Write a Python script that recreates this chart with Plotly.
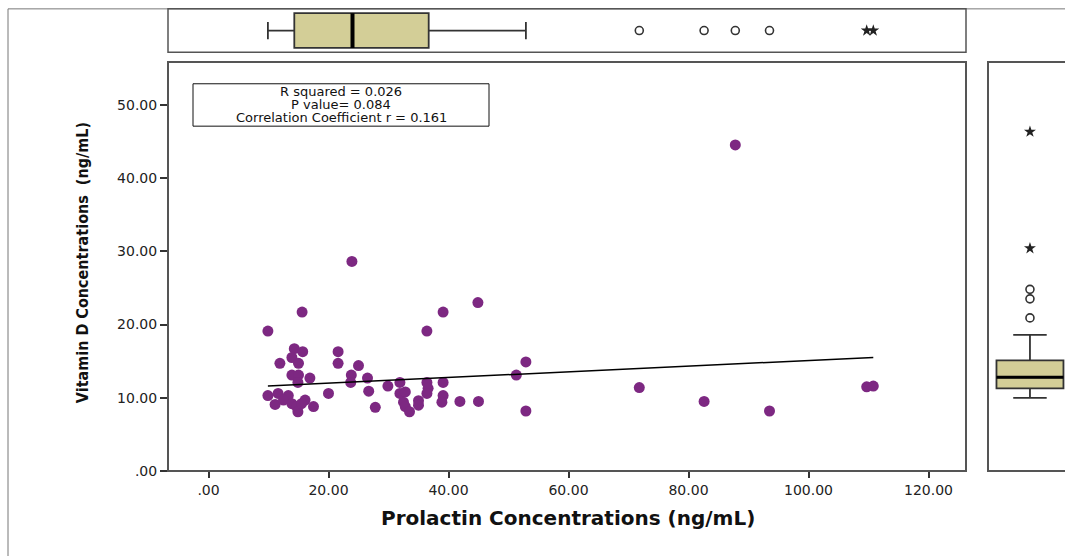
import plotly.graph_objects as go

W, H = 1065, 556

# ---- data ----
prolactin = [15.6, 9.9, 36.4, 39.1, 44.9, 14.3, 15.7, 21.6, 13.9, 11.9,
             15.0, 21.6, 25.0, 13.9, 15.0, 16.9, 14.9, 23.8, 23.7, 26.5,
             29.9, 31.9, 36.4, 39.1, 36.6, 26.7, 20.0, 31.9, 32.8, 36.4,
             39.1, 52.9, 51.3, 52.9, 9.9, 11.6, 13.3, 11.1, 12.5, 13.9,
             14.7, 14.9, 16.1, 15.5, 17.5, 27.8, 32.5, 32.8, 33.5, 35.0,
             35.0, 38.9, 41.9, 45.0, 23.9, 71.8, 82.6, 93.5, 109.7, 110.8,
             87.8]
vitamin_d = [21.7, 19.1, 19.1, 21.7, 23.0, 16.7, 16.3, 16.3, 15.5, 14.7,
             14.7, 14.7, 14.4, 13.1, 13.1, 12.7, 12.1, 13.1, 12.1, 12.7,
             11.6, 12.1, 12.1, 12.1, 11.3, 10.9, 10.6, 10.6, 10.8, 10.6,
             10.3, 14.9, 13.1, 8.2, 10.3, 10.6, 10.3, 9.1, 9.7, 9.2,
             8.8, 8.1, 9.7, 9.2, 8.8, 8.7, 9.4, 8.8, 8.1, 9.6,
             9.0, 9.4, 9.5, 9.5, 28.6, 11.4, 9.5, 8.2, 11.5, 11.6,
             44.5]

fit_intercept = 11.22
fit_slope = 0.0387

# boxplot summaries: [lower whisker, Q1, median, Q3, upper whisker]
prl_stats = [9.9, 14.3, 24.0, 36.7, 52.9]
prl_outliers = [71.8, 82.6, 87.8, 93.5]
prl_extremes = [109.7, 110.8]

vitd_stats = [8.2, 9.5, 11.0, 13.3, 16.8]
vitd_outliers = [19.1, 21.7, 23.0]
vitd_extremes = [28.6, 44.5]

x_tick_vals = [0, 20, 40, 60, 80, 100, 120]
x_tick_text = [".00", "20.00", "40.00", "60.00", "80.00", "100.00", "120.00"]
y_tick_vals = [0, 10, 20, 30, 40, 50]
y_tick_text = [".00", "10.00", "20.00", "30.00", "40.00", "50.00"]

stats_lines = ["R squared = 0.026", "P value= 0.084", "Correlation Coefficient r = 0.161"]
x_title = "Prolactin Concentrations (ng/mL)"
y_title = "Vitamin D Concentrations  (ng/mL)"

# ---- styling ----
PURPLE = "#7D2882"
BOXFILL = "#D3CE97"
FRAME = "#555555"


def px(x):
    return x / W


def py(y):
    return 1 - y / H


x_range = [-6.75, 126.25]
y_range = [0, 55.8]
vitd_shift = 1.8  # right-hand boxplot panel is drawn slightly offset in the source

fig = go.Figure()

# scatter points
fig.add_trace(go.Scatter(x=prolactin, y=vitamin_d, mode="markers",
                         marker=dict(color=PURPLE, size=11, line=dict(width=0)),
                         xaxis="x", yaxis="y", hoverinfo="x+y"))
# fit line
x0, x1 = min(prolactin), max(prolactin)
fig.add_trace(go.Scatter(x=[x0, x1], y=[fit_intercept + fit_slope * x0, fit_intercept + fit_slope * x1],
                         mode="lines", line=dict(color="black", width=1.5),
                         xaxis="x", yaxis="y", hoverinfo="skip"))

# top boxplot (prolactin)
top_w = 0.8
fig.add_trace(go.Box(orientation="h", y=[0],
                     lowerfence=[prl_stats[0]], q1=[prl_stats[1]], median=[prl_stats[2]],
                     q3=[prl_stats[3]], upperfence=[prl_stats[4]],
                     boxpoints=False, width=top_w, whiskerwidth=0.5,
                     fillcolor=BOXFILL, line=dict(color="#333333", width=1.8),
                     xaxis="x2", yaxis="y2"))
fig.add_trace(go.Scatter(x=[prl_stats[2], prl_stats[2]], y=[-top_w / 2, top_w / 2], mode="lines",
                         line=dict(color="black", width=4), xaxis="x2", yaxis="y2", hoverinfo="skip"))
fig.add_trace(go.Scatter(x=prl_outliers, y=[0] * len(prl_outliers), mode="markers",
                         marker=dict(symbol="circle-open", size=8, color="#333333", line=dict(width=1.6)),
                         xaxis="x2", yaxis="y2"))
fig.add_trace(go.Scatter(x=prl_extremes, y=[0] * len(prl_extremes), mode="markers",
                         marker=dict(symbol="star", size=9, color="#222222"),
                         xaxis="x2", yaxis="y2"))

# right boxplot (vitamin D)
right_w = 0.87
fig.add_trace(go.Box(orientation="v", x=[0],
                     lowerfence=[vitd_stats[0]], q1=[vitd_stats[1]], median=[vitd_stats[2]],
                     q3=[vitd_stats[3]], upperfence=[vitd_stats[4]],
                     boxpoints=False, width=right_w, whiskerwidth=0.5,
                     fillcolor=BOXFILL, line=dict(color="#333333", width=1.8),
                     xaxis="x3", yaxis="y3"))
fig.add_trace(go.Scatter(x=[-right_w / 2, right_w / 2], y=[vitd_stats[2], vitd_stats[2]], mode="lines",
                         line=dict(color="black", width=3), xaxis="x3", yaxis="y3", hoverinfo="skip"))
fig.add_trace(go.Scatter(x=[0] * len(vitd_outliers), y=vitd_outliers, mode="markers",
                         marker=dict(symbol="circle-open", size=8, color="#333333", line=dict(width=1.6)),
                         xaxis="x3", yaxis="y3"))
fig.add_trace(go.Scatter(x=[0] * len(vitd_extremes), y=vitd_extremes, mode="markers",
                         marker=dict(symbol="star", size=9, color="#222222"),
                         xaxis="x3", yaxis="y3"))

tick_font = dict(family="DejaVu Sans, Arial, sans-serif", size=14, color="#222222")
main_dom_x = [px(168), px(966)]
main_dom_y = [py(478), py(63)]

fig.update_layout(
    width=W, height=H, margin=dict(l=0, r=0, t=0, b=0),
    paper_bgcolor="white", plot_bgcolor="white", showlegend=False,
    xaxis=dict(domain=main_dom_x, range=x_range, anchor="y",
               tickmode="array", tickvals=x_tick_vals, ticktext=x_tick_text,
               ticks="outside", ticklen=6, tickwidth=1.5, tickcolor="#333333",
               tickfont=tick_font, showgrid=False, zeroline=False, showline=False),
    yaxis=dict(domain=main_dom_y, range=y_range, anchor="x",
               tickmode="array", tickvals=y_tick_vals, ticktext=y_tick_text,
               ticks="outside", ticklen=7, tickwidth=1.5, tickcolor="#333333",
               tickfont=tick_font, showgrid=False, zeroline=False, showline=False),
    xaxis2=dict(domain=main_dom_x, range=x_range, anchor="y2", visible=False),
    yaxis2=dict(domain=[py(53), py(9)], range=[-0.5, 0.5], anchor="x2", visible=False),
    xaxis3=dict(domain=[px(988), 1.0], range=[-0.545, 0.455], anchor="y3", visible=False),
    yaxis3=dict(domain=main_dom_y, range=[y_range[0] - vitd_shift, y_range[1] - vitd_shift],
                anchor="x3", visible=False),
)

shapes = []
# outer frame
shapes.append(dict(type="line", xref="paper", yref="paper", x0=px(8), x1=px(8), y0=py(9), y1=py(600),
                   line=dict(color="#777777", width=1)))
shapes.append(dict(type="line", xref="paper", yref="paper", x0=px(8), x1=px(1100), y0=py(9), y1=py(9),
                   line=dict(color="#777777", width=1)))
# panel frames
shapes.append(dict(type="rect", xref="paper", yref="paper", x0=px(168), x1=px(966), y0=py(53), y1=py(9),
                   line=dict(color=FRAME, width=1.5)))
shapes.append(dict(type="rect", xref="paper", yref="paper", x0=px(168), x1=px(966), y0=py(478), y1=py(63),
                   line=dict(color=FRAME, width=2)))
shapes.append(dict(type="rect", xref="paper", yref="paper", x0=px(988), x1=px(1100), y0=py(478), y1=py(63),
                   line=dict(color=FRAME, width=2)))
# stats box
shapes.append(dict(type="rect", xref="paper", yref="paper", x0=px(193), x1=px(489), y0=py(128), y1=py(85),
                   line=dict(color="#111111", width=1), fillcolor="white"))
fig.update_layout(shapes=shapes)

annotations = []
for i, t in enumerate(stats_lines):
    annotations.append(dict(text=t, xref="paper", yref="paper", x=px(341), y=py(92.5 + 13.5 * i),
                            xanchor="center", yanchor="middle", showarrow=False,
                            font=dict(family="DejaVu Sans, Arial, sans-serif", size=13, color="#111111")))
annotations.append(dict(text="<b>" + x_title + "</b>", xref="paper", yref="paper", x=px(568), y=py(526),
                        xanchor="center", yanchor="middle", showarrow=False,
                        font=dict(family="DejaVu Sans, Arial, sans-serif", size=20, color="#111111")))
annotations.append(dict(text="<b>" + y_title + "</b>", xref="paper", yref="paper", x=px(82), y=py(267),
                        xanchor="center", yanchor="middle", showarrow=False, textangle=-90,
                        font=dict(family="DejaVu Sans Condensed, Liberation Sans Narrow, DejaVu Sans, sans-serif",
                                  size=16, color="#111111")))
fig.update_layout(annotations=annotations)

fig.write_html("out.html")
